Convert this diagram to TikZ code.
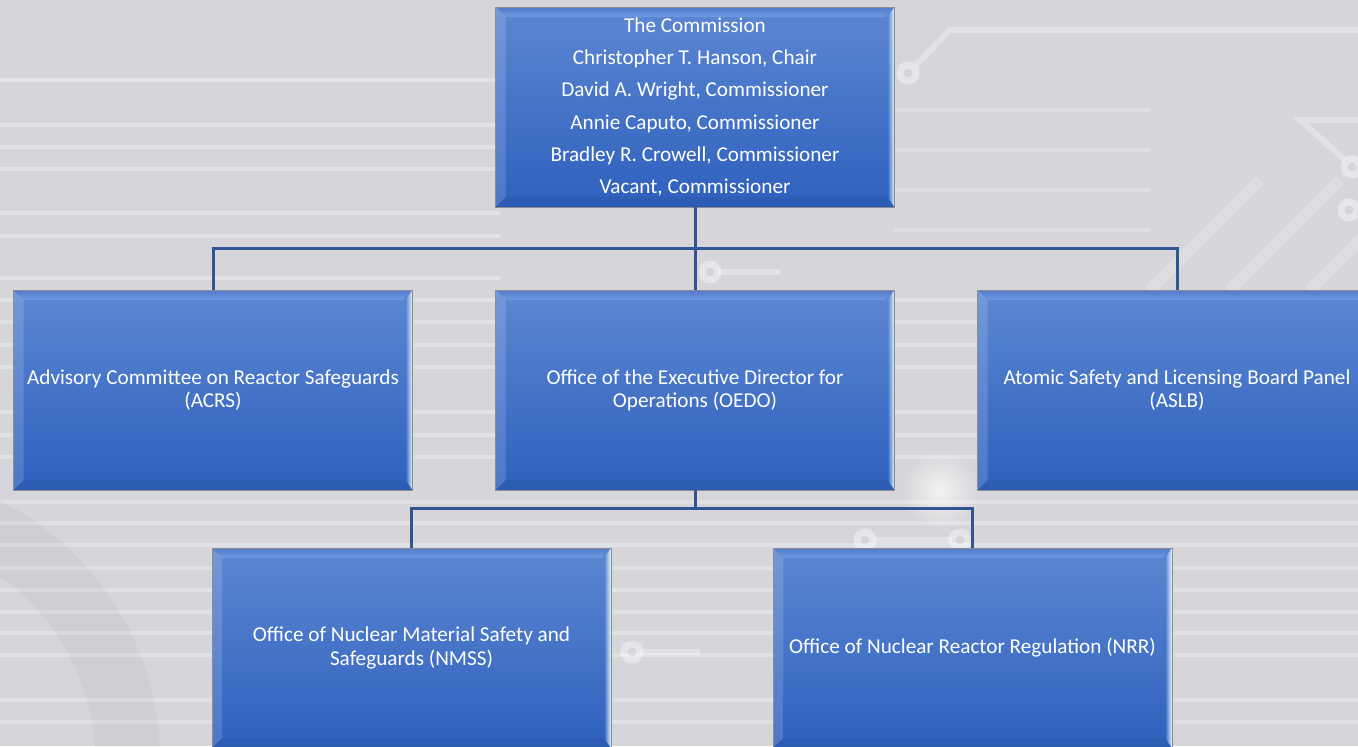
\documentclass[tikz,border=0pt]{standalone}
\usepackage{fontspec}
\setmainfont{Carlito}
\usetikzlibrary{calc,fadings}

\definecolor{bgbase}{RGB}{214,214,218}
\definecolor{stripe}{RGB}{238,239,242}
\definecolor{boxtop}{RGB}{92,135,210}
\definecolor{boxbot}{RGB}{46,96,189}
\definecolor{boxedge}{RGB}{140,140,146}
\definecolor{bevhi}{RGB}{170,202,248}
\definecolor{bevdk}{RGB}{82,122,200}
\definecolor{bevmid}{RGB}{110,154,228}
\definecolor{rimhi}{RGB}{226,248,255}
\definecolor{linkblue}{RGB}{47,85,151}

\tikzfading[name=rimfade, left color=transparent!100, right color=transparent!0]
\tikzfading[name=glowfade, inner color=transparent!30, outer color=transparent!100]

\tikzset{
  orgbox/.style={rectangle, minimum width=199.5pt, minimum height=100pt,
    inner sep=0pt, outer sep=0pt, draw=boxedge, line width=0.5pt,
    top color=boxtop, bottom color=boxbot, text=white, align=center,
    font=\fontsize{10.6}{11.65}\selectfont,
    path picture={
      \coordinate (bNW) at (path picture bounding box.north west);
      \coordinate (bNE) at (path picture bounding box.north east);
      \coordinate (bSW) at (path picture bounding box.south west);
      \coordinate (bSE) at (path picture bounding box.south east);
      % top bevel with its bright band
      \shade[top color=bevdk, middle color=bevhi, bottom color=bevmid]
        (bNW) -- (bNE) -- ($(bNE)+(-5pt,-5pt)$) -- ($(bNW)+(5pt,-5pt)$) -- cycle;
      % left bevel, slightly lighter
      \fill[white, fill opacity=0.15]
        (bNW) -- ($(bNW)+(5pt,-5pt)$) -- ($(bSW)+(5pt,5pt)$) -- (bSW) -- cycle;
      % right rim highlight
      \fill[rimhi, path fading=rimfade]
        (bNE) -- ($(bNE)+(-3.5pt,-5pt)$) -- ($(bSE)+(-3.5pt,5pt)$) -- (bSE) -- cycle;
      % bottom bevel, slightly darker
      \fill[black, fill opacity=0.05]
        (bSW) -- ($(bSW)+(5pt,5pt)$) -- ($(bSE)+(-3.5pt,5pt)$) -- (bSE) -- cycle;
    }},
  board/.style={orgbox, font=\fontsize{10.6}{16.1}\selectfont},
  link/.style={draw=linkblue, line width=1.5pt},
  trace/.style={draw=white, line width=3, opacity=0.3},
  ring/.style={draw=white, line width=3.5, opacity=0.4},
}

\begin{document}
\begin{tikzpicture}[x=0.5pt, y=-0.5pt]
  \useasboundingbox (0,0) rectangle (1358,746);
  \clip (0,0) rectangle (1358,746);

  % ---- backdrop: grey board with faint circuit traces ----
  \fill[bgbase] (0,0) rectangle (1358,746);
  \foreach \yy in {80,125,147,169,213,236,278}
    \fill[stripe, opacity=0.5] (0,\yy-2) rectangle (500,\yy+2);
  \foreach \yy in {300,322,345,367,412,435,457,502,523,545,568,590,612,633,655,700,722}
    \fill[stripe, opacity=0.45] (0,\yy-2) rectangle (1358,\yy+2);
  \foreach \yy in {110,150,190,230}
    \fill[stripe, opacity=0.35] (894,\yy-2) rectangle (1150,\yy+2);
  % diagonal sheen, upper right
  \foreach \xx in {1150,1230,1310,1390}
    \draw[white, line width=6, opacity=0.18] (\xx,290) -- (\xx+110,180);
  % large soft arc at the lower left
  \fill[black, opacity=0.03, even odd rule]
    (-130,760) circle (290) (-130,760) circle (225);
  % traces ending in pads
  \draw[trace] (915,66) -- (950,30) -- (1358,30);
  \draw[ring] (908,73) circle (8);
  \draw[trace] (1358,120) -- (1300,120) -- (1345,160);
  \draw[ring] (1352,167) circle (8);
  \draw[ring] (1349,210) circle (8);
  \draw[trace] (718,272) -- (780,272);
  \draw[ring] (710,272) circle (8);
  \draw[trace] (873,540) -- (952,540);
  \draw[ring] (865,540) circle (8);
  \draw[ring] (960,540) circle (8);
  \draw[trace] (640,652) -- (700,652);
  \draw[ring] (632,652) circle (8);
  % soft glows
  \fill[white, path fading=glowfade] (940,490) circle (40);
  \fill[white, path fading=glowfade] (705,455) circle (30);

  % ---- organisation boxes ----
  \node[board] (comm) at (695,107) {The Commission\\
    Christopher T. Hanson, Chair\\
    David A. Wright, Commissioner\\
    Annie Caputo, Commissioner\\
    Bradley R. Crowell, Commissioner\\
    Vacant, Commissioner};

  \node[orgbox] (acrs) at (213,390) {Advisory Committee on Reactor Safeguards\\(ACRS)};
  \node[orgbox] (oedo) at (695,390) {Office of the Executive Director for\\Operations (OEDO)};
  \node[orgbox] (aslb) at (1177,390) {Atomic Safety and Licensing Board Panel\\(ASLB)};

  \node[orgbox] (nmss) at (411.5,648) {Office of Nuclear Material Safety and\\Safeguards (NMSS)};
  \node[orgbox] (nrr) at (972.5,648) {Office of Nuclear Reactor Regulation (NRR)};

  % ---- reporting lines ----
  \coordinate (busA) at (0,248);
  \coordinate (busB) at (0,508);
  \draw[link] (comm.south) -- (comm.south |- busA) -| (acrs.north);
  \draw[link] (comm.south) -- (oedo.north);
  \draw[link] (comm.south |- busA) -| (aslb.north);
  \draw[link] (oedo.south) -- (oedo.south |- busB) -| (nmss.north);
  \draw[link] (oedo.south |- busB) -| (nrr.north);
\end{tikzpicture}
\end{document}
